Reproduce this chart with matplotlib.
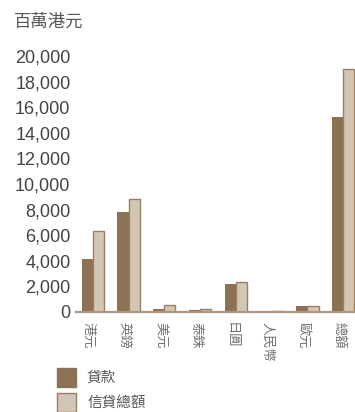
import matplotlib
matplotlib.use("Agg")
import matplotlib.pyplot as plt
from matplotlib.patches import Rectangle
import numpy as np

plt.rcParams['font.family'] = ['Liberation Sans', 'Noto Sans CJK TC', 'DejaVu Sans']

categories = ['港元', '英鎊', '美元', '泰銖', '日圓', '人民幣', '歐元', '總額']
loans = [4150, 7800, 250, 130, 2200, 0, 470, 15200]
total_credit = [6350, 8850, 520, 210, 2300, 80, 470, 19000]
yticks = [0, 2000, 4000, 6000, 8000, 10000, 12000, 14000, 16000, 18000, 20000]
unit_label = '百萬港元'
series_names = ['貸款', '信貸總額']

dark = '#8c7253'
light = '#d4c6b4'
edge = '#9a8063'
axis_col = '#ad987e'
text_col = '#444444'
cjk = ['Noto Sans CJK TC', 'DejaVu Sans']

fig = plt.figure(figsize=(3.55, 4.12), dpi=100)
ax = fig.add_axes([0.214, 0.243, 0.786, 0.621])

x = np.arange(len(categories))
w = 0.31
ax.bar(x - w / 2, loans, width=w, color=dark, linewidth=0)
ax.bar(x + w / 2, total_credit, width=w, color=light, edgecolor=edge, linewidth=1.0)

ax.set_xlim(-0.47, 7.33)
ax.set_ylim(0, 20000)

for s in ['top', 'right', 'left']:
    ax.spines[s].set_visible(False)
ax.spines['bottom'].set_color(axis_col)
ax.spines['bottom'].set_linewidth(1.6)

ax.set_yticks(yticks)
ax.set_yticklabels([f'{v:,}' for v in yticks], fontsize=13, color=text_col,
                   family='Liberation Sans')
ax.tick_params(axis='y', length=0, pad=4)

ax.set_xticks(x - 0.12)
ax.set_xticklabels(categories, rotation=270, fontsize=9.5, color='#707070',
                   family=cjk, va='top', ha='center')
ax.tick_params(axis='x', length=0, pad=7)

fig.text(14 / 355, 1 - 22 / 412, unit_label, fontsize=12.5, color='#555555',
         family=cjk, va='center', ha='left')

# legend drawn in figure coordinates
W, H = 355, 412
for i, (name, col) in enumerate(zip(series_names, [dark, light])):
    top = 368 + i * 25
    ec = col if i == 0 else edge
    fig.add_artist(Rectangle((57 / W, 1 - (top + 19) / H), 19 / W, 19 / H,
                             transform=fig.transFigure, facecolor=col,
                             edgecolor=ec, linewidth=1.0))
    fig.text(87 / W, 1 - (top + 10) / H, name, fontsize=10.5, color='#555555',
             family=cjk, va='center', ha='left')

fig.savefig('out.png', dpi=100)
